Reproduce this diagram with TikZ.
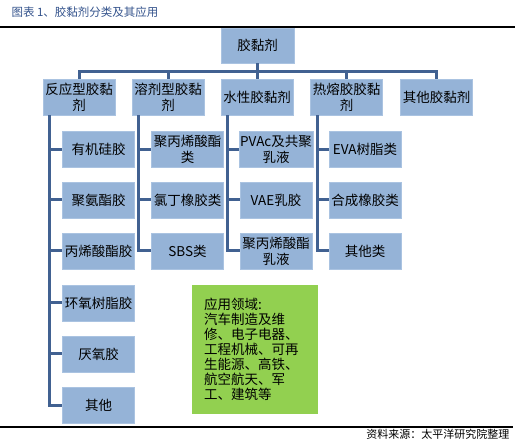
\documentclass[tikz,border=0pt]{standalone}
\usepackage{fontspec}
\setmainfont{Noto Sans CJK SC}
\definecolor{boxblue}{RGB}{149,179,215}
\definecolor{boxedge}{RGB}{170,195,225}
\definecolor{linkblue}{RGB}{65,97,145}
\definecolor{appgreen}{RGB}{146,208,80}
\definecolor{titleblue}{RGB}{52,83,140}
\tikzset{
  cat/.style={fill=boxblue, draw=boxedge, minimum width=72pt, minimum height=36pt,
    inner sep=1pt, align=center, font=\fontsize{13.5}{16}\selectfont},
  link/.style={draw=linkblue, line width=3pt}
}
\begin{document}
\begin{tikzpicture}[x=1pt,y=-1pt]
\useasboundingbox (0,0) rectangle (515,441);
\node[anchor=west, text=titleblue, font=\fontsize{11.5}{13}\selectfont] (title) at (8,12) {图表 1、胶黏剂分类及其应用};
\draw[line width=1.5pt] (0,27) -- (515,27);
\draw[line width=1.2pt] (0,427) -- (513,427);
\node[anchor=east, font=\fontsize{11}{12}\selectfont] (src) at (513,434.5) {资料来源：太平洋研究院整理};

\node[cat, minimum width=73pt, minimum height=35pt] (r) at (257.5,45.5) {胶黏剂};

\node[cat] (a1) at (79,97) {反应型胶黏\\剂};
\node[cat] (a2) at (168,97) {溶剂型胶黏\\剂};
\node[cat] (a3) at (257,97) {水性胶黏剂};
\node[cat] (a4) at (346.5,97) {热熔胶胶黏\\剂};
\node[cat] (a5) at (436.5,97) {其他胶黏剂};

\node[cat] (b11) at (98.5,149.5) {有机硅胶};
\node[cat] (b12) at (98.5,200) {聚氨酯胶};
\node[cat] (b13) at (98.5,251) {丙烯酸酯胶};
\node[cat] (b14) at (98.5,303) {环氧树脂胶};
\node[cat] (b15) at (98.5,354) {厌氧胶};
\node[cat] (b16) at (98.5,405) {其他};

\node[cat] (b21) at (187.5,149.5) {聚丙烯酸酯\\类};
\node[cat] (b22) at (187.5,200) {氯丁橡胶类};
\node[cat] (b23) at (187.5,251) {SBS类};

\node[cat] (b31) at (276,149.5) {PVAc及共聚\\乳液};
\node[cat] (b32) at (276,200) {VAE乳胶};
\node[cat] (b33) at (276,251) {聚丙烯酸酯\\乳液};

\node[cat] (b41) at (365,149.5) {EVA树脂类};
\node[cat] (b42) at (365,200) {合成橡胶类};
\node[cat] (b43) at (365,251) {其他类};

\node[fill=appgreen, minimum width=126pt, minimum height=129pt, text width=102pt,
  align=left, font=\fontsize{13.5}{15}\selectfont] (app) at (255,349.5)
  {应用领域:\\汽车制造及维\\修、电子电器、\\工程机械、可再\\生能源、高铁、\\航空航天、军\\工、建筑等};

\foreach \n in {a1,a2,a3,a4,a5}
  \draw[link] (r.south) -- ++(0,8) -| (\n.north);
\foreach \n in {b11,b12,b13,b14,b15,b16}
  \draw[link] ([xshift=7pt]a1.south west) |- (\n.west);
\foreach \n in {b21,b22,b23}
  \draw[link] ([xshift=7pt]a2.south west) |- (\n.west);
\foreach \n in {b31,b32,b33}
  \draw[link] ([xshift=7pt]a3.south west) |- (\n.west);
\foreach \n in {b41,b42,b43}
  \draw[link] ([xshift=7pt]a4.south west) |- (\n.west);
\end{tikzpicture}
\end{document}
